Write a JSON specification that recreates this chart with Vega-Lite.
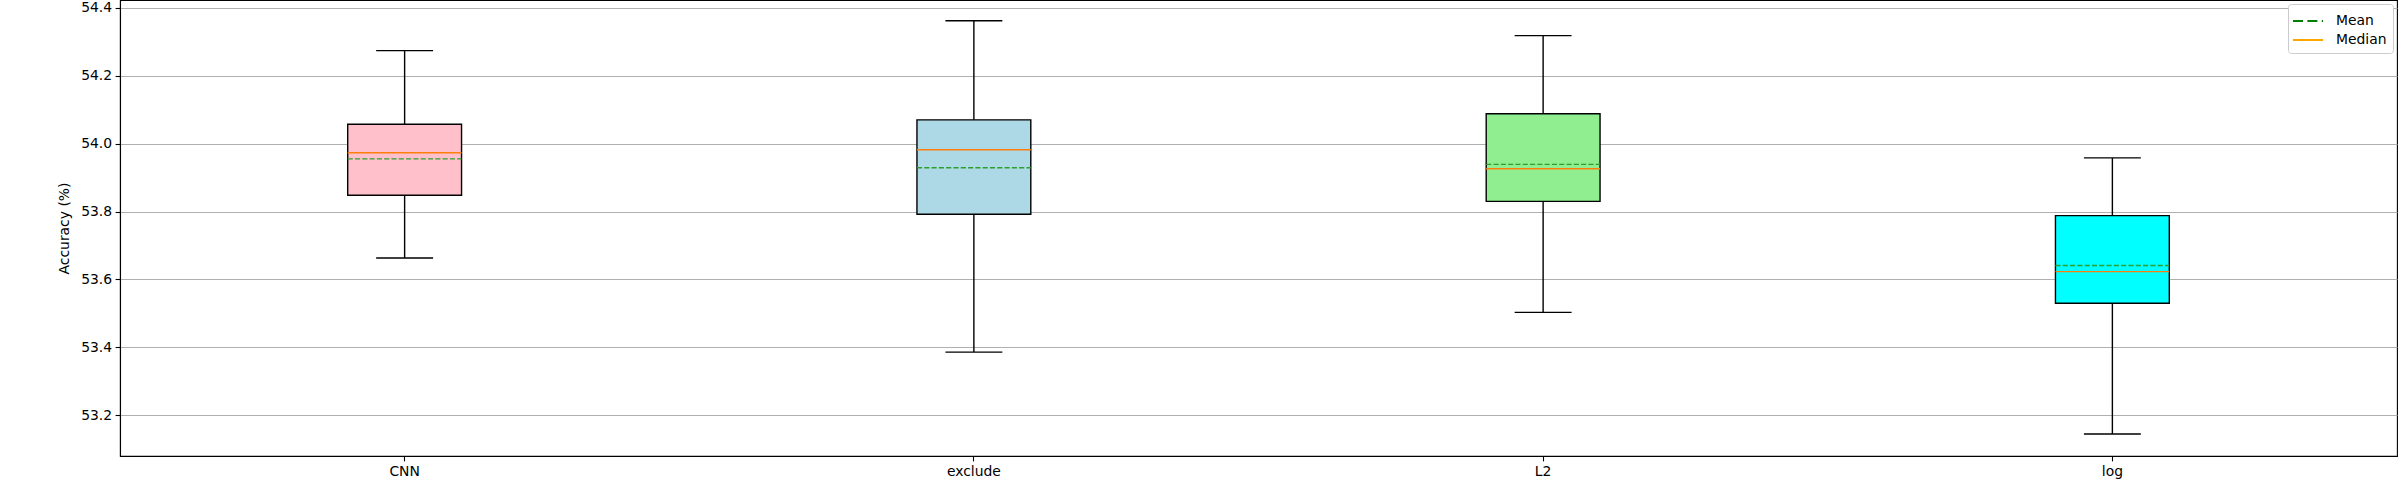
{
  "$schema": "https://vega.github.io/schema/vega-lite/v6.json",
  "width": 2277,
  "height": 456,
  "autosize": {"type": "none"},
  "padding": {"left": 120, "top": 0, "right": 3, "bottom": 24},
  "background": "white",
  "data": {
    "values": [
      {"cat": "CNN", "lower": 53.663, "q1": 53.848, "Median": 53.973, "Mean": 53.955, "q3": 54.057, "upper": 54.274},
      {"cat": "exclude", "lower": 53.386, "q1": 53.792, "Median": 53.982, "Mean": 53.929, "q3": 54.070, "upper": 54.362},
      {"cat": "L2", "lower": 53.503, "q1": 53.830, "Median": 53.926, "Mean": 53.939, "q3": 54.088, "upper": 54.318},
      {"cat": "log", "lower": 53.145, "q1": 53.530, "Median": 53.623, "Mean": 53.641, "q3": 53.788, "upper": 53.958}
    ]
  },
  "encoding": {
    "x": {
      "field": "cat", "type": "nominal", "sort": null,
      "scale": {"type": "band", "paddingInner": 0, "paddingOuter": 0},
      "axis": {"title": null, "labelAngle": 0, "grid": false}
    }
  },
  "layer": [
    {
      "transform": [{"fold": ["Mean", "Median"], "as": ["stat", "value"]}],
      "mark": {"type": "rule", "strokeWidth": 2},
      "encoding": {
        "x": {"field": "cat", "type": "nominal", "sort": null, "bandPosition": 0.42},
        "x2": {"field": "cat", "bandPosition": 0.58},
        "y": {"field": "value", "type": "quantitative"},
        "color": {
          "field": "stat", "type": "nominal",
          "scale": {"domain": ["Mean", "Median"], "range": ["#008000", "#ffa500"]},
          "legend": {"title": null}
        },
        "strokeDash": {
          "field": "stat", "type": "nominal",
          "scale": {"domain": ["Mean", "Median"], "range": [[10, 4.4], [1, 0]]},
          "legend": {"title": null}
        }
      }
    },
    {
      "mark": {"type": "rule", "color": "black", "strokeWidth": 1.4},
      "encoding": {
        "y": {
          "field": "lower", "type": "quantitative",
          "scale": {"domain": [53.08, 54.423], "zero": false, "nice": false},
          "axis": {
            "title": "Accuracy (%)",
            "values": [53.2, 53.4, 53.6, 53.8, 54.0, 54.2, 54.4],
            "format": ".1f",
            "grid": true,
            "gridColor": "#b0b0b0",
            "gridWidth": 1.1,
            "titlePadding": 9
          }
        },
        "y2": {"field": "upper"}
      }
    },
    {
      "mark": {"type": "bar", "width": {"band": 0.2}, "stroke": "black", "strokeWidth": 1.4},
      "encoding": {
        "y": {"field": "q1", "type": "quantitative"},
        "y2": {"field": "q3"},
        "fill": {
          "field": "cat", "type": "nominal",
          "scale": {"domain": ["CNN", "exclude", "L2", "log"], "range": ["#ffc0cb", "#add8e6", "#90ee90", "#00ffff"]},
          "legend": null
        },
        "fillOpacity": {"value": 1}
      }
    },
    {
      "mark": {"type": "rule", "color": "black", "strokeWidth": 1.4},
      "encoding": {
        "x": {"field": "cat", "type": "nominal", "sort": null, "bandPosition": 0.45},
        "x2": {"field": "cat", "bandPosition": 0.55},
        "y": {"field": "lower", "type": "quantitative"}
      }
    },
    {
      "mark": {"type": "rule", "color": "black", "strokeWidth": 1.4},
      "encoding": {
        "x": {"field": "cat", "type": "nominal", "sort": null, "bandPosition": 0.45},
        "x2": {"field": "cat", "bandPosition": 0.55},
        "y": {"field": "upper", "type": "quantitative"}
      }
    },
    {
      "mark": {"type": "rule", "color": "#ff7f0e", "strokeWidth": 1.4},
      "encoding": {
        "x": {"field": "cat", "type": "nominal", "sort": null, "bandPosition": 0.4},
        "x2": {"field": "cat", "bandPosition": 0.6},
        "y": {"field": "Median", "type": "quantitative"}
      }
    },
    {
      "mark": {"type": "rule", "color": "#2ca02c", "strokeWidth": 1.4, "strokeDash": [5.1, 2.2]},
      "encoding": {
        "x": {"field": "cat", "type": "nominal", "sort": null, "bandPosition": 0.4},
        "x2": {"field": "cat", "bandPosition": 0.6},
        "y": {"field": "Mean", "type": "quantitative"}
      }
    }
  ],
  "config": {
    "view": {"stroke": "black", "strokeWidth": 1.1},
    "font": "DejaVu Sans",
    "axis": {
      "labelFont": "DejaVu Sans",
      "labelFontSize": 13.9,
      "labelColor": "black",
      "titleFont": "DejaVu Sans",
      "titleFontSize": 13.9,
      "titleFontWeight": "normal",
      "titleColor": "black",
      "tickColor": "black",
      "tickSize": 4.9,
      "tickWidth": 1.1,
      "domainColor": "black",
      "domainWidth": 1.1,
      "labelPadding": 3.5
    },
    "legend": {
      "orient": "top-right",
      "offset": 4,
      "fillColor": "white",
      "strokeColor": "#cccccc",
      "cornerRadius": 3,
      "padding": 6,
      "labelFont": "DejaVu Sans",
      "labelFontSize": 13.9,
      "labelColor": "black",
      "symbolType": "M-1.5,0H1.5",
      "symbolSize": 400,
      "symbolStrokeWidth": 2,
      "symbolOffset": 3,
      "labelOffset": 17,
      "rowPadding": 1
    }
  }
}
